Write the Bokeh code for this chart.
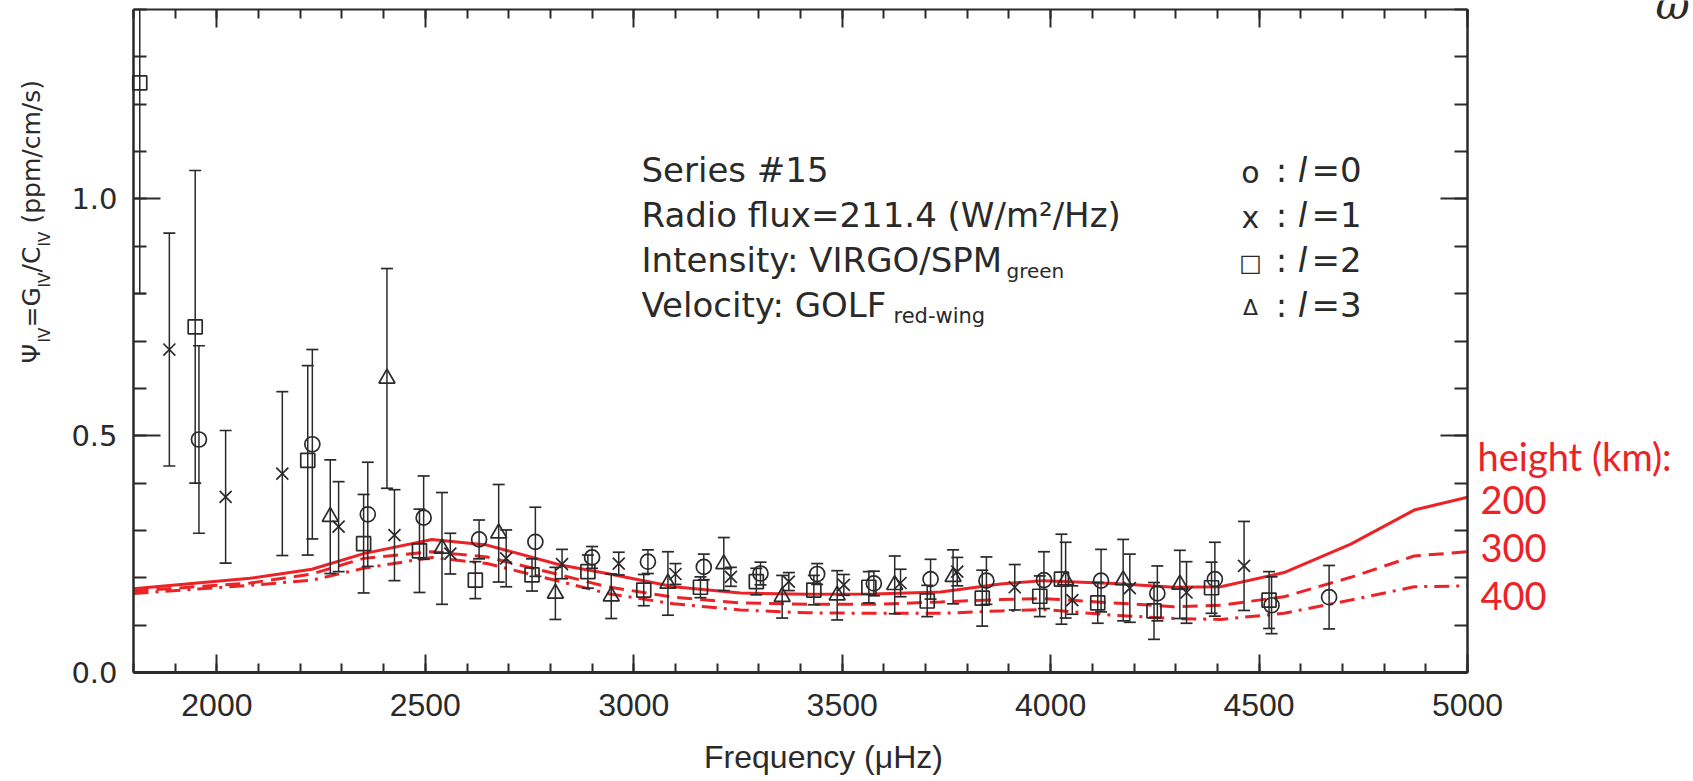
import math
from bokeh.plotting import figure
from bokeh.models import (Range1d, LinearAxis, SingleIntervalTicker, Label,
                          ColumnDataSource, PrintfTickFormatter, CustomJSTickFormatter)
from bokeh.embed import file_html
from bokeh.resources import INLINE

# ---------------- data ----------------
l0_freq = [1957, 2229, 2362, 2496, 2629, 2764, 2900, 3034, 3168, 3304,
           3440, 3576, 3712, 3846, 3984, 4121, 4256, 4394, 4530, 4668]
l0_val = [0.492, 0.482, 0.334, 0.327, 0.281, 0.276, 0.243, 0.234, 0.223, 0.209,
          0.208, 0.188, 0.197, 0.194, 0.195, 0.194, 0.167, 0.197, 0.142, 0.159]
l0_err = [0.198, 0.200, 0.110, 0.088, 0.041, 0.073, 0.023, 0.025, 0.027, 0.024,
          0.022, 0.026, 0.042, 0.050, 0.060, 0.066, 0.058, 0.078, 0.060, 0.067]

l1_freq = [1886, 2021, 2157, 2292, 2426, 2560, 2694, 2828, 2964, 3100,
           3233, 3372, 3504, 3640, 3776, 3914, 4052, 4190, 4326, 4464]
l1_val = [0.682, 0.371, 0.420, 0.308, 0.290, 0.251, 0.241, 0.229, 0.230, 0.208,
          0.202, 0.192, 0.185, 0.189, 0.213, 0.180, 0.153, 0.178, 0.169, 0.225]
l1_err = [0.246, 0.140, 0.173, 0.095, 0.096, 0.043, 0.060, 0.031, 0.024, 0.022,
          0.020, 0.019, 0.022, 0.029, 0.030, 0.048, 0.030, 0.072, 0.065, 0.094]

l2_freq = [1815, 1948, 2218, 2352, 2486, 2620, 2756, 2890, 3024, 3160, 3294,
           3432, 3564, 3704, 3836, 3974, 4026, 4113, 4248, 4386, 4524]
l2_val = [1.245, 0.730, 0.448, 0.272, 0.257, 0.195, 0.206, 0.213, 0.174, 0.180, 0.192,
          0.174, 0.180, 0.151, 0.157, 0.161, 0.197, 0.147, 0.130, 0.179, 0.153]
l2_err = [0.445, 0.330, 0.200, 0.104, 0.088, 0.039, 0.034, 0.035, 0.033, 0.022, 0.028,
          0.031, 0.033, 0.033, 0.059, 0.043, 0.095, 0.043, 0.060, 0.054, 0.060]

l3_freq = [2272, 2408, 2540, 2676, 2812, 2946, 3082, 3216, 3356, 3488,
           3626, 3766, 4036, 4174, 4310]
l3_val = [0.329, 0.621, 0.262, 0.294, 0.167, 0.161, 0.188, 0.229, 0.160, 0.163,
          0.185, 0.202, 0.195, 0.195, 0.186]
l3_err = [0.120, 0.232, 0.118, 0.103, 0.055, 0.047, 0.067, 0.056, 0.045, 0.052,
          0.061, 0.057, 0.080, 0.086, 0.072]

model_freq = [1800, 2080, 2228, 2352, 2516, 2648, 2824, 2936, 3096, 3256, 3416,
              3576, 3736, 3880, 3983, 4152, 4296, 4408, 4560, 4720, 4872, 5000]
model_200 = [0.177, 0.199, 0.218, 0.251, 0.281, 0.269, 0.227, 0.209, 0.181, 0.168, 0.165,
             0.166, 0.170, 0.187, 0.194, 0.188, 0.180, 0.181, 0.211, 0.271, 0.343, 0.370]
model_300 = [0.172, 0.189, 0.208, 0.241, 0.255, 0.244, 0.206, 0.181, 0.159, 0.147, 0.144,
             0.144, 0.149, 0.154, 0.156, 0.147, 0.139, 0.142, 0.160, 0.201, 0.246, 0.255]
model_400 = [0.167, 0.184, 0.195, 0.220, 0.243, 0.230, 0.192, 0.167, 0.145, 0.132, 0.126,
             0.125, 0.125, 0.130, 0.133, 0.121, 0.114, 0.112, 0.125, 0.153, 0.181, 0.183]

x_start, x_end = 1800, 5000
y_start, y_end = 0.0, 1.4

# ---------------- layout ----------------
W, H = 1693, 781
FL, FR, FT, FB = 133, 1467, 9, 672      # pixel box of the plotted area
INK = "#2a2a2a"
RED = "#ec2227"
SANS = "DejaVu Sans"
TICKFONT = "Liberation Sans"


def dx(X):
    return x_start + (X - FL) * (x_end - x_start) / (FR - FL)


def dy(Y):
    return y_start + (FB - Y) * (y_end - y_start) / (FB - FT)


# the frame spans the whole canvas; the axes sit at fixed data locations
p = figure(width=W, height=H, output_backend="svg", toolbar_location=None,
           title=None, x_axis_location=None, y_axis_location=None,
           x_range=Range1d(dx(0), dx(W)), y_range=Range1d(dy(H), dy(0)),
           min_border=0)
p.grid.visible = False
p.outline_line_color = None
p.background_fill_color = "white"
p.border_fill_color = "white"


def make_axis(interval, loc, bounds, major_in, minor_in, labels, lw=2):
    ax = LinearAxis(ticker=SingleIntervalTicker(interval=interval, num_minor_ticks=5),
                    fixed_location=loc, bounds=bounds)
    ax.axis_line_color = INK
    ax.axis_line_width = lw
    ax.major_tick_line_color = INK
    ax.minor_tick_line_color = INK
    ax.major_tick_line_width = 2
    ax.minor_tick_line_width = 2
    ax.major_tick_in = major_in
    ax.major_tick_out = 0
    ax.minor_tick_in = minor_in
    ax.minor_tick_out = 0
    ax.major_label_text_color = INK
    ax.major_label_standoff = 16
    if not labels:
        ax.formatter = CustomJSTickFormatter(code="return ''")
    return ax


bottom = make_axis(500, y_start, (x_start, x_end), 18, 9, True, lw=3)
bottom.major_label_text_font = TICKFONT
bottom.major_label_text_font_size = "32px"
bottom.major_label_standoff = 21
p.add_layout(bottom, "below")

top = make_axis(500, y_end, (x_start, x_end), 18, 9, False)
p.add_layout(top, "above")

left = make_axis(0.5, x_start, (y_start, y_end), 27, 13, True, lw=2.5)
left.formatter = PrintfTickFormatter(format="%.1f")
left.major_label_text_font = SANS
left.major_label_text_font_size = "29px"
p.add_layout(left, "left")

right = make_axis(0.5, x_end, (y_start, y_end), 27, 13, False, lw=2.5)
p.add_layout(right, "right")

# ---------------- model curves ----------------
p.line(model_freq, model_200, line_color=RED, line_width=3)
p.line(model_freq, model_300, line_color=RED, line_width=3, line_dash="15 8")
p.line(model_freq, model_400, line_color=RED, line_width=3, line_dash="15 7 3 7")

# ---------------- data with error bars ----------------
series = [
    (l0_freq, l0_val, l0_err, "circle", 15),
    (l1_freq, l1_val, l1_err, "x", 17),
    (l2_freq, l2_val, l2_err, "square", 14),
    (l3_freq, l3_val, l3_err, "triangle", 16),
]
for fr, va, er, mk, sz in series:
    lo = [a - b for a, b in zip(va, er)]
    hi = [a + b for a, b in zip(va, er)]
    src = ColumnDataSource(dict(f=fr, v=va, lo=lo,
                                hi_draw=[min(h, y_end) for h in hi]))
    caps = ColumnDataSource(dict(
        f=list(fr) + [f for f, h in zip(fr, hi) if h <= y_end],
        y=lo + [h for h in hi if h <= y_end]))
    p.segment(x0="f", y0="lo", x1="f", y1="hi_draw", source=src,
              line_color=INK, line_width=1.5)
    p.scatter(x="f", y="y", source=caps, marker="dash", size=12,
              line_color=INK, line_width=1.7)
    p.scatter(x="f", y="v", source=src, marker=mk, size=sz,
              fill_color=None, line_color=INK, line_width=1.7)


def lab(X, Y, text, size, font=SANS, color=INK, align="left",
        baseline="middle", angle=0.0, style="normal"):
    p.add_layout(Label(x=dx(X), y=dy(Y), text=text, text_font=font,
                       text_font_size=f"{size}px", text_color=color,
                       text_align=align, text_baseline=baseline,
                       angle=angle, text_font_style=style))


# ---------------- y-axis label (rotated, with subscripts) ----------------
R = math.pi / 2
ylab_parts = [
    ("Ψ", 25, 31, 363),
    ("IV", 15, 44, 342),
    ("=G", 25, 31, 327),
    ("IV", 15, 44, 287),
    ("/C", 25, 31, 272),
    ("IV", 15, 44, 246),
    ("(ppm/cm/s)", 25, 31, 223),
]
for t, s, X, Y in ylab_parts:
    lab(X, Y, t, s, angle=R)

# ---------------- x-axis label ----------------
lab(823, 756, "Frequency (μHz)", 32, font=TICKFONT, align="center")

# ---------------- info block ----------------
lab(641, 169, "Series #15", 34)
lab(641, 214, "Radio flux=211.4 (W/m²/Hz)", 34)
lab(641, 259, "Intensity: VIRGO/SPM", 34)
lab(1006, 270, "green", 20)
lab(641, 304, "Velocity: GOLF", 34)
lab(893, 315, "red-wing", 21)

# ---------------- symbol key ----------------
key_rows = [("o", 169, "=0", 30), ("x", 214, "=1", 30), ("□", 259, "=2", 24), ("Δ", 304, "=3", 22)]
for sym, Y, eq, ss in key_rows:
    lab(1250, Y + 3, sym, ss, align="center")
    lab(1281, Y, ":", 34, align="center")
    lab(1302, Y, "l", 34, align="center", style="italic")
    lab(1311, Y, eq, 34)

# ---------------- model heights ----------------
lab(1477, 455, "height (km):", 38, font="Lato", color=RED)
lab(1480, 499, "200", 38, font="Lato", color=RED)
lab(1480, 547, "300", 38, font="Lato", color=RED)
lab(1480, 595, "400", 38, font="Lato", color=RED)

# glyph cropped by the top edge, top-right corner
lab(1655, 4, "ω", 42, font="DejaVu Serif", baseline="alphabetic", style="italic")

open("out.html", "w").write(file_html(p, INLINE))
